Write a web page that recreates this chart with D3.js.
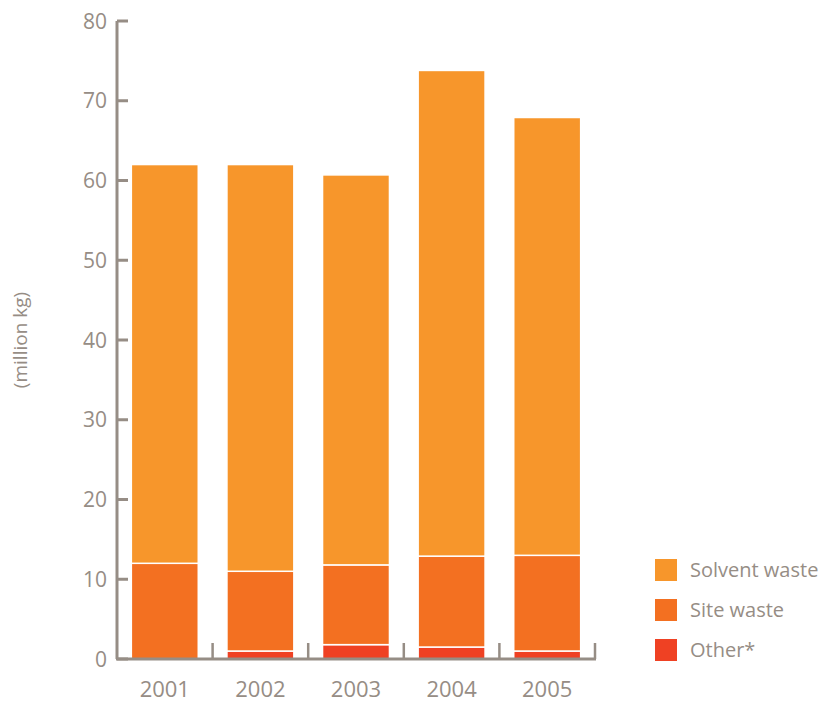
<!DOCTYPE html>
<html><head><meta charset="utf-8">
<script src="https://cdn.jsdelivr.net/npm/d3@7"></script>
<style>body{margin:0;background:#fff}text{font-family:"Open Sans",sans-serif}</style>
</head><body><svg id="c" width="835" height="702"></svg>
<script>
const years = ["2001","2002","2003","2004","2005"];
const other = [0, 1.0, 1.8, 1.5, 1.0];
const siteWaste = [12.0, 10.0, 10.0, 11.4, 12.0];
const solventWaste = [50.0, 51.0, 48.9, 60.9, 54.9];
const yTicks = [0,10,20,30,40,50,60,70,80];
const seriesNames = ["Solvent waste","Site waste","Other*"];
const colors = ["#F7962B","#F37021","#EF4123"];

const svg = d3.select("#c");
const gray = "#968D85";
const x = d3.scaleBand().domain(years).range([117,595]).paddingInner(0.3).paddingOuter(0.15);
const y = d3.scaleLinear().domain([0,80]).range([659,21]);

const rows = years.map((yr,i)=>({year:yr, other:other[i], site:siteWaste[i], solvent:solventWaste[i]}));
const stack = d3.stack().keys(["other","site","solvent"])(rows);
const colorByKey = {other:colors[2], site:colors[1], solvent:colors[0]};

stack.forEach(layer=>{
  svg.append("g").selectAll("rect").data(layer.filter(d=>d[1]-d[0]>0)).join("rect")
    .attr("x", d=>x(d.data.year))
    .attr("width", x.bandwidth())
    .attr("y", d=>y(d[1]))
    .attr("height", d=>y(d[0])-y(d[1]))
    .attr("fill", colorByKey[layer.key])
    .attr("stroke","#fff").attr("stroke-width",1.5);
});

// Y axis
const ya = svg.append("g");
ya.append("line").attr("x1",117).attr("x2",117).attr("y1",y(80)).attr("y2",y(0)).attr("stroke",gray).attr("stroke-width",3);
yTicks.forEach(t=>{
  ya.append("line").attr("x1",117).attr("x2",128).attr("y1",y(t)).attr("y2",y(t)).attr("stroke",gray).attr("stroke-width",3);
  ya.append("text").attr("x",107).attr("y",y(t)).attr("dy","0.36em").attr("text-anchor","end")
    .attr("fill",gray).attr("font-size",21).text(t);
});
// X axis
const xa = svg.append("g");
xa.append("line").attr("x1",116).attr("x2",596).attr("y1",659).attr("y2",659).attr("stroke",gray).attr("stroke-width",3);
const step = x.step();
years.forEach((yr,i)=>{
  const bx = x(yr)+x.bandwidth()+ (step - x.bandwidth())/2;
  xa.append("line").attr("x1",bx).attr("x2",bx).attr("y1",643).attr("y2",659).attr("stroke",gray).attr("stroke-width",2.5);
  xa.append("text").attr("x",x(yr)+x.bandwidth()/2).attr("y",697).attr("text-anchor","middle")
    .attr("fill",gray).attr("font-size",22).text(yr);
});

svg.append("text").attr("transform","translate(27,340) rotate(-90)").attr("text-anchor","middle")
  .attr("fill",gray).attr("font-size",19).text("(million kg)");

// legend
seriesNames.forEach((n,i)=>{
  const ly = 559 + i*40;
  svg.append("rect").attr("x",655).attr("y",ly).attr("width",22).attr("height",22).attr("fill",colors[i]);
  svg.append("text").attr("x",690).attr("y",ly+11).attr("dy","0.36em").attr("fill",gray).attr("font-size",20).text(n);
});
</script></body></html>
